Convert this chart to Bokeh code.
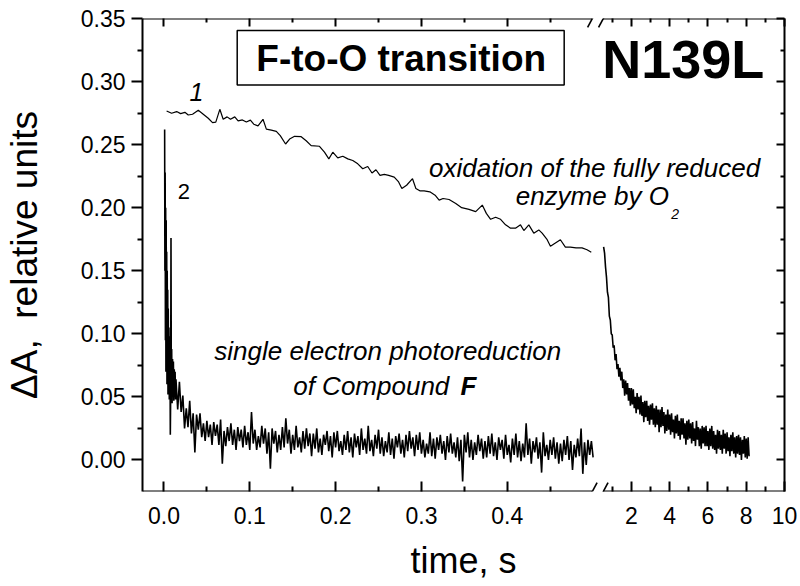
from bokeh.plotting import figure
from bokeh.models import (Range1d, LinearAxis, FixedTicker, PrintfTickFormatter,
                          CustomJSTickFormatter, Label, BoxAnnotation, Arrow,
                          ColumnDataSource)
from bokeh.embed import file_html
from bokeh.resources import INLINE

FONT = "Liberation Sans"

# ---------------- data ----------------
# curve 1: oxidation of the fully reduced enzyme by O2 (fast window, 0 - 0.5 s)
t1_early = [0.0031, 0.0089, 0.0148, 0.0194, 0.0244, 0.0283, 0.0333, 0.0400, 0.0458, 0.0516,
            0.0566, 0.0604, 0.0651, 0.0690, 0.0736, 0.0775, 0.0825, 0.0864, 0.0914, 0.0960,
            0.1007, 0.1046, 0.1096, 0.1154, 0.1193, 0.1251, 0.1309, 0.1355, 0.1417, 0.1464,
            0.1522, 0.1599, 0.1657, 0.1715, 0.1812, 0.1870, 0.1921, 0.1967, 0.2025, 0.2084,
            0.2142, 0.2200, 0.2258, 0.2316, 0.2374, 0.2424, 0.2470, 0.2517, 0.2567, 0.2618,
            0.2683, 0.2734, 0.2772, 0.2827, 0.2896, 0.2935, 0.2981, 0.3031, 0.3098, 0.3159,
            0.3206, 0.3252, 0.3322, 0.3400, 0.3469, 0.3554, 0.3632, 0.3709, 0.3756, 0.3806,
            0.3864, 0.3922, 0.3980, 0.4038, 0.4096, 0.4154, 0.4193, 0.4251, 0.4309, 0.4367,
            0.4406, 0.4465, 0.4503, 0.4561, 0.4619, 0.4677, 0.4735, 0.4801, 0.4871, 0.4929,
            0.4979]
a1_early = [0.2767, 0.2749, 0.2762, 0.2746, 0.2756, 0.2735, 0.2741, 0.2772, 0.2741, 0.2709,
            0.2675, 0.2678, 0.2780, 0.2701, 0.2720, 0.2701, 0.2720, 0.2688, 0.2696, 0.2680,
            0.2694, 0.2662, 0.2649, 0.2701, 0.2623, 0.2615, 0.2605, 0.2571, 0.2505, 0.2544,
            0.2566, 0.2563, 0.2531, 0.2492, 0.2487, 0.2440, 0.2387, 0.2440, 0.2395, 0.2408,
            0.2387, 0.2374, 0.2348, 0.2309, 0.2327, 0.2275, 0.2301, 0.2256, 0.2264, 0.2256,
            0.2243, 0.2204, 0.2152, 0.2178, 0.2230, 0.2152, 0.2134, 0.2134, 0.2126, 0.2099,
            0.2060, 0.2073, 0.2065, 0.2034, 0.2000, 0.1987, 0.1969, 0.2021, 0.1955, 0.1908,
            0.1924, 0.1908, 0.1864, 0.1838, 0.1838, 0.1864, 0.1819, 0.1864, 0.1798, 0.1824,
            0.1798, 0.1746, 0.1694, 0.1720, 0.1746, 0.1688, 0.1688, 0.1681, 0.1681, 0.1667,
            0.1647]

# curve 1, slow window (seconds), sampled every 0.05 s from 0.55 s
t1_late_first = 0.55
t1_late_step = 0.05
a1_late = [0.169, 0.164, 0.153, 0.145, 0.133, 0.129, 0.114, 0.111, 0.100, 0.099,
           0.089, 0.091, 0.079, 0.084, 0.072, 0.076, 0.066, 0.073, 0.063, 0.070,
           0.057, 0.064, 0.051, 0.063, 0.052, 0.061, 0.047, 0.057, 0.043, 0.057,
           0.044, 0.056, 0.041, 0.050, 0.037, 0.053, 0.040, 0.050, 0.036, 0.051,
           0.035, 0.046, 0.030, 0.047, 0.034, 0.047, 0.031, 0.043, 0.028, 0.044,
           0.032, 0.045, 0.028, 0.041, 0.026, 0.043, 0.028, 0.040, 0.022, 0.040,
           0.026, 0.042, 0.027, 0.038, 0.021, 0.036, 0.023, 0.040, 0.024, 0.036,
           0.020, 0.037, 0.022, 0.032, 0.017, 0.035, 0.021, 0.036, 0.019, 0.031,
           0.016, 0.033, 0.020, 0.033, 0.017, 0.029, 0.012, 0.031, 0.016, 0.032,
           0.017, 0.029, 0.013, 0.030, 0.015, 0.025, 0.011, 0.031, 0.016, 0.026,
           0.011, 0.025, 0.009, 0.027, 0.013, 0.026, 0.011, 0.027, 0.011, 0.023,
           0.008, 0.025, 0.011, 0.027, 0.009, 0.023, 0.008, 0.020, 0.005, 0.024,
           0.009, 0.023, 0.008, 0.020, 0.005, 0.024, 0.009, 0.021, 0.005, 0.022,
           0.007, 0.018, 0.003, 0.020, 0.007, 0.022, 0.005, 0.018, 0.002, 0.019,
           0.005, 0.020, 0.004, 0.018, 0.000, 0.016, 0.005, 0.019, 0.002, 0.017,
           0.001, 0.018, 0.003]

# curve 2: single electron photoreduction of Compound F
t2_spike = [0.0008, 0.0011, 0.0014, 0.0017, 0.0020, 0.0023, 0.0026, 0.0029, 0.0032, 0.0035,
            0.0038, 0.0041, 0.0044, 0.0047, 0.0050, 0.0054, 0.0058, 0.0062, 0.0066, 0.0070,
            0.0074, 0.0078, 0.0082, 0.0086, 0.0090, 0.0095, 0.0100, 0.0105, 0.0110, 0.0115,
            0.0120, 0.0125, 0.0130, 0.0135]
a2_spike = [0.262, 0.150, 0.228, 0.095, 0.200, 0.070, 0.190, 0.085, 0.165, 0.060,
            0.150, 0.072, 0.135, 0.052, 0.120, 0.064, 0.105, 0.048, 0.098, 0.090,
            0.020, 0.050, 0.176, 0.055, 0.088, 0.045, 0.080, 0.058, 0.078, 0.047,
            0.072, 0.050, 0.070, 0.048]
# remainder of curve 2, sampled every 2 ms from 14 ms
t2_tail_first = 0.014
t2_tail_step = 0.002
a2_tail = [0.064, 0.040, 0.062, 0.038, 0.051, 0.025, 0.041, 0.026, 0.047, 0.021,
           0.037, 0.006, 0.036, 0.024, 0.037, 0.018, 0.029, 0.015, 0.031, 0.018,
           0.028, 0.012, 0.030, 0.019, 0.028, 0.012, 0.032, -0.003, 0.023, 0.011,
           0.026, 0.015, 0.029, 0.012, 0.024, 0.008, 0.026, 0.015, 0.024, 0.010,
           0.027, 0.012, 0.022, 0.008, 0.038, 0.013, 0.024, 0.008, 0.019, 0.010,
           0.027, 0.013, 0.025, 0.005, 0.022, -0.007, 0.025, 0.013, 0.023, 0.006,
           0.020, 0.008, 0.026, 0.010, 0.033, 0.013, 0.024, 0.005, 0.020, 0.008,
           0.027, 0.010, 0.018, 0.006, 0.023, 0.009, 0.025, 0.011, 0.021, 0.003,
           0.021, 0.009, 0.025, 0.006, 0.017, 0.004, 0.020, 0.012, 0.023, 0.007,
           0.019, 0.002, 0.022, 0.010, 0.023, 0.007, 0.015, 0.004, 0.020, 0.008,
           0.023, 0.006, 0.018, 0.002, 0.021, 0.010, 0.019, 0.004, 0.025, 0.008,
           0.017, 0.005, 0.027, 0.007, 0.016, 0.003, 0.020, 0.009, 0.024, 0.005,
           0.018, 0.003, 0.015, 0.006, 0.022, 0.004, 0.017, 0.001, 0.019, 0.010,
           0.021, 0.005, 0.016, 0.002, 0.020, 0.007, 0.023, 0.009, 0.018, 0.003,
           0.020, 0.008, 0.022, 0.005, 0.016, 0.002, 0.013, 0.005, 0.022, 0.003,
           0.017, 0.001, 0.018, 0.008, 0.020, 0.005, 0.015, 0.000, 0.019, 0.006,
           0.021, 0.005, 0.014, 0.002, 0.018, -0.001, 0.016, -0.017, 0.020, 0.006,
           0.022, 0.002, 0.016, 0.000, 0.014, 0.004, 0.020, 0.007, 0.017, 0.001,
           0.015, 0.002, 0.019, 0.005, 0.021, 0.003, 0.014, 0.000, 0.018, 0.008,
           0.016, 0.001, 0.020, 0.004, 0.012, -0.002, 0.017, 0.004, 0.021, 0.002,
           0.015, -0.001, 0.013, 0.002, 0.029, 0.004, 0.017, -0.003, 0.015, 0.006,
           0.018, 0.001, 0.014, -0.010, 0.022, 0.003, 0.012, 0.000, 0.016, 0.004,
           0.018, 0.001, 0.014, -0.003, 0.013, -0.001, 0.016, 0.004, 0.019, 0.000,
           0.015, -0.008, 0.012, 0.002, 0.017, 0.003, 0.025, -0.011, 0.014, -0.004,
           0.016, 0.004, 0.015, 0.002]

# axis ticks and labels
x_ticks_early = [0.0, 0.1, 0.2, 0.3, 0.4]
x_labels_early = ["0.0", "0.1", "0.2", "0.3", "0.4"]
x_minor_early = [0.05, 0.15, 0.25, 0.35, 0.45]
x_ticks_late = [2, 4, 6, 8, 10]
x_labels_late = ["2", "4", "6", "8", "10"]
x_minor_late = [1, 3, 5, 7, 9]
y_ticks = [0.0, 0.05, 0.10, 0.15, 0.20, 0.25, 0.30, 0.35]
y_minor = [0.025, 0.075, 0.125, 0.175, 0.225, 0.275, 0.325]

# ---------------- build ----------------
t1_late = [t1_late_first + i * t1_late_step for i in range(len(a1_late))]
t2 = t2_spike + [t2_tail_first + i * t2_tail_step for i in range(len(a2_tail))]
a2 = a2_spike + a2_tail

early = Range1d(-0.025, 0.723)     # fast window (s), spans full frame width
late = Range1d(-23.54, 10.0)       # slow window (s), same frame
yr = Range1d(-0.025, 0.35)

FRAME_L, FRAME_T, FRAME_W, FRAME_H = 140, 18, 644, 477   # canvas pixels


def ex(px):  # canvas x -> fast-window data x (annotation placement)
    return early.start + (px - FRAME_L) * (early.end - early.start) / FRAME_W


def ey(py):  # canvas y -> data y (annotation placement)
    return yr.end - (py - FRAME_T) * (yr.end - yr.start) / FRAME_H


def late_to_early(t):
    f = (t - late.start) / (late.end - late.start)
    return early.start + f * (early.end - early.start)


p = figure(width=798, height=583, x_range=early, y_range=yr,
           x_axis_location=None, y_axis_location=None,
           output_backend="svg", toolbar_location=None,
           min_border_left=140, min_border_right=14,
           min_border_top=18, min_border_bottom=88)
p.extra_x_ranges = {"late": late}
p.outline_line_color = None
p.grid.visible = False
p.background_fill_color = "white"
p.border_fill_color = "white"

major_x = x_ticks_early + [late_to_early(t) for t in x_ticks_late]
minor_x = x_minor_early + [late_to_early(t) for t in x_minor_late]
x_overrides = dict(zip(major_x, x_labels_early + x_labels_late))
blank = CustomJSTickFormatter(code="return ''")


def style(ax):
    ax.axis_line_width = 2
    ax.axis_line_color = "black"
    ax.major_tick_line_width = 2
    ax.minor_tick_line_width = 2
    ax.major_label_text_font = FONT
    ax.major_label_text_font_size = "23px"
    ax.major_label_text_color = "black"
    ax.axis_label_text_font = FONT
    ax.axis_label_text_font_style = "normal"
    ax.axis_label_text_color = "black"
    return ax


left = style(LinearAxis(ticker=FixedTicker(ticks=y_ticks, minor_ticks=y_minor),
                        formatter=PrintfTickFormatter(format="%.2f")))
left.major_tick_out, left.major_tick_in = 11, 0
left.minor_tick_out, left.minor_tick_in = 5, 0
left.major_label_standoff = 6
left.axis_label = "\u0394A,\u00a0 relative units"
left.axis_label_text_font_size = "37px"
left.axis_label_standoff = 33
p.add_layout(left, "left")

right = style(LinearAxis(ticker=FixedTicker(ticks=y_ticks, minor_ticks=y_minor),
                         formatter=blank))
right.major_tick_out, right.major_tick_in = 0, 8
right.minor_tick_out, right.minor_tick_in = 0, 4
right.major_label_standoff = 0
p.add_layout(right, "right")

bottom = style(LinearAxis(ticker=FixedTicker(ticks=major_x, minor_ticks=minor_x),
                          major_label_overrides=x_overrides))
bottom.major_tick_out, bottom.major_tick_in = 0, 10
bottom.minor_tick_out, bottom.minor_tick_in = 0, 5
bottom.major_label_standoff = 15
bottom.axis_line_color = None
bottom.axis_label = "time, s"
bottom.axis_label_text_font_size = "36px"
bottom.axis_label_standoff = 13
p.add_layout(bottom, "below")

top = style(LinearAxis(ticker=FixedTicker(ticks=major_x, minor_ticks=minor_x),
                       formatter=blank))
top.major_tick_out, top.major_tick_in = 0, 8
top.minor_tick_out, top.minor_tick_in = 0, 4
top.major_label_standoff = 0
top.axis_line_color = None
p.add_layout(top, "above")

# frame lines with the axis break
BREAK_L, BREAK_R = ex(591), ex(602)
for yv in (yr.start, yr.end):
    p.add_layout(Arrow(start=None, end=None, x_start=early.start, y_start=yv,
                       x_end=BREAK_L, y_end=yv, line_width=2, line_color="black"))
    p.add_layout(Arrow(start=None, end=None, x_start=BREAK_R, y_start=yv,
                       x_end=early.end, y_end=yv, line_width=2, line_color="black"))
# break marks "//"
for pyc in (FRAME_T + FRAME_H, FRAME_T):
    for x0 in (586.5, 597.5):
        p.add_layout(Arrow(start=None, end=None, x_start=ex(x0), y_start=ey(pyc + 9),
                           x_end=ex(x0 + 9.5), y_end=ey(pyc - 9),
                           line_width=1.6, line_color="black"))

# data
src1 = ColumnDataSource(dict(t=t1_early, a=a1_early))
src1l = ColumnDataSource(dict(t=t1_late, a=a1_late))
src2 = ColumnDataSource(dict(t=t2, a=a2))
p.line("t", "a", source=src2, line_color="black", line_width=1.6)
p.line("t", "a", source=src1, line_color="black", line_width=1.2)
p.line("t", "a", source=src1l, line_color="black", line_width=1.6, x_range_name="late")


def lab(text, px, py, size, style="normal", align="center"):
    # py is the wanted baseline; compensate for the renderer's baseline offset
    shift = 0.536 * size - 5.9
    p.add_layout(Label(x=ex(px), y=ey(py - shift), text=text, text_font=FONT,
                       text_font_size=f"{size}px", text_font_style=style,
                       text_align=align, text_baseline="alphabetic",
                       text_color="black"))


p.add_layout(BoxAnnotation(left=ex(235), right=ex(563), top=ey(30), bottom=ey(85),
                           fill_color=None, line_color="black", line_alpha=1.0,
                           line_width=1.5))
lab("F-to-O transition", 399.5, 72, 37, "bold")
lab("N139L", 682.5, 82, 54, "bold")
lab("1", 194, 100, 25, "italic")
lab("2", 181.5, 198, 22, "normal")
lab("oxidation of the fully reduced", 593.5, 176.5, 26, "italic")
lab("enzyme by O", 668, 205, 26, "italic", "right")
lab("2", 670.5, 216.5, 14, "italic", "left")
lab("single electron photoreduction", 386, 361.5, 26, "italic")
lab("of Compound ", 455, 396.5, 26, "italic", "right")
lab("F", 459, 396.5, 26, "bold italic", "left")

open("out.html", "w").write(file_html(p, INLINE))
